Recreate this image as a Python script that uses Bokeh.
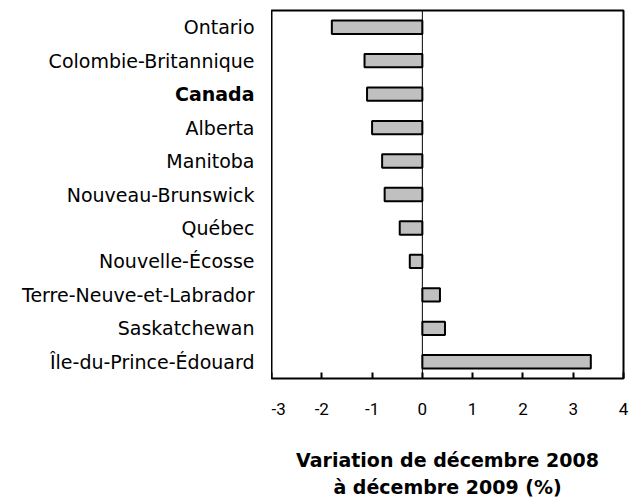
from bokeh.plotting import figure
from bokeh.models import (ColumnDataSource, FactorRange, Span, FixedTicker, Title,
                          Range1d)
from bokeh.layouts import row
from bokeh.core.properties import value
from bokeh.embed import file_html
from bokeh.resources import INLINE

provinces = ["Ontario", "Colombie-Britannique", "Canada", "Alberta", "Manitoba",
             "Nouveau-Brunswick", "Québec", "Nouvelle-Écosse",
             "Terre-Neuve-et-Labrador", "Saskatchewan", "Île-du-Prince-Édouard"]
variation = [-1.8, -1.15, -1.1, -1.0, -0.8, -0.75, -0.45, -0.25, 0.35, 0.45, 3.35]
styles = ["normal", "normal", "bold", "normal", "normal", "normal", "normal",
          "normal", "normal", "normal", "normal"]
x_ticks = [-3, -2, -1, 0, 1, 2, 3, 4]
axis_title_1 = "Variation de décembre 2008"
axis_title_2 = "à décembre 2009 (%)"

NAME_FONT = "DejaVu Sans"
TICK_FONT = "Roboto"

src = ColumnDataSource(dict(prov=provinces, val=variation, right=[1] * len(provinces),
                            style=styles))
yr = FactorRange(factors=provinces[::-1])

# left panel holding the category names
names = figure(y_range=yr, x_range=Range1d(0, 1), frame_width=271, frame_height=368,
               min_border_left=0, min_border_right=0, min_border_top=10,
               min_border_bottom=118, output_backend="svg", toolbar_location=None)
names.text(x="right", y="prov", text="prov", source=src, x_offset=-17,
           text_align="right", text_baseline="middle",
           text_font=value(NAME_FONT), text_font_size="19px",
           text_font_style="style", text_color="black")
names.axis.visible = False
names.grid.visible = False
names.outline_line_color = None

# main bar chart
p = figure(y_range=yr, x_range=(-3, 4), frame_width=352, frame_height=368,
           min_border_left=0, min_border_right=6, min_border_top=10, min_border_bottom=118,
           output_backend="svg", toolbar_location=None)

p.hbar(y="prov", right="val", left=0, height=0.4, source=src,
       fill_color="#c0c0c0", line_color="black", line_width=2)

p.add_layout(Span(location=0, dimension="height", line_color="black", line_width=1))

p.xgrid.visible = False
p.ygrid.visible = False
p.yaxis.visible = False
p.outline_line_color = "black"
p.outline_line_width = 2
p.outline_line_alpha = 1.0

xa = p.xaxis[0]
xa.ticker = FixedTicker(ticks=x_ticks)
xa.major_label_overrides = {t: str(t) for t in x_ticks}
xa.axis_line_color = None
xa.major_tick_in = 6
xa.major_tick_out = 0
xa.major_tick_line_width = 2
xa.minor_tick_line_color = None
xa.major_label_standoff = 24
xa.major_label_text_font = TICK_FONT
xa.major_label_text_font_size = "17px"
xa.major_label_text_color = "black"
xa.axis_label = axis_title_1
xa.axis_label_standoff = 31
xa.axis_label_text_font = NAME_FONT
xa.axis_label_text_font_size = "19px"
xa.axis_label_text_font_style = "bold"
xa.axis_label_text_color = "black"

p.add_layout(Title(text=axis_title_2, align="center", standoff=0,
                   text_font=NAME_FONT, text_font_size="19px", text_font_style="bold",
                   text_color="black"), "below")

layout = row(names, p, spacing=0)
open("out.html", "w").write(file_html(layout, INLINE))
